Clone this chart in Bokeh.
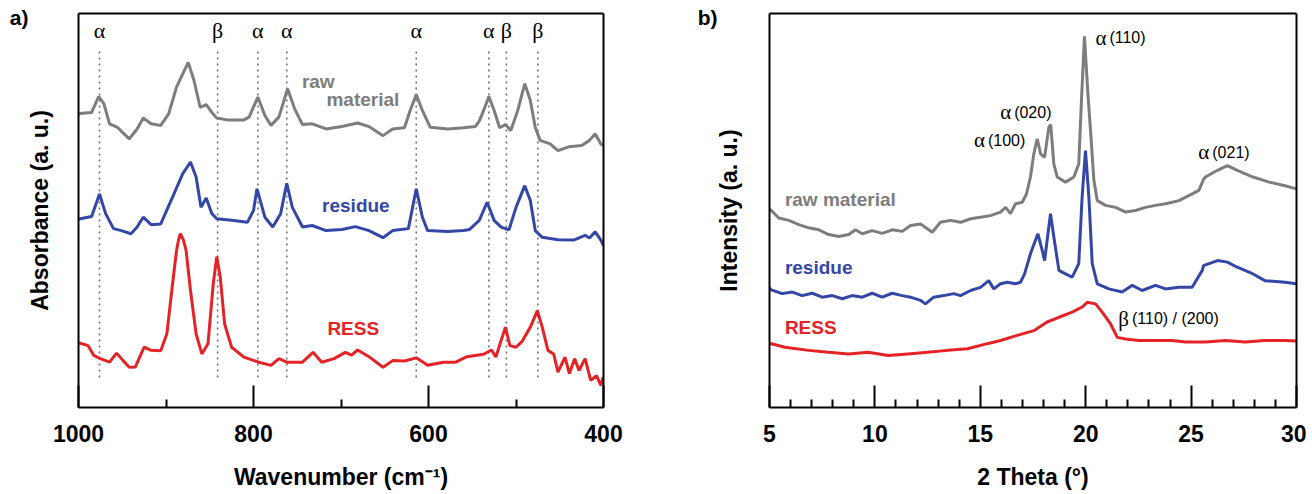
from bokeh.plotting import figure
from bokeh.models import Range1d, FixedTicker, LinearAxis
from bokeh.layouts import row
from bokeh.embed import file_html
from bokeh.resources import INLINE
from bokeh.core.properties import value

# ---------------- FTIR data (panel a) ----------------
raw_wn = [1000, 996, 985, 977, 971, 964.5, 955.5, 951, 942, 933, 926, 917, 906, 897, 888, 874.6, 868, 861, 854,
          847.6, 842, 830, 811, 805, 795, 787, 780, 771, 761, 753, 744, 733, 717, 699, 681, 668, 652, 641, 627.5,
          621, 614, 607, 598, 578, 560, 546.6, 542, 537, 531, 525, 518.7, 512, 506, 498, 490, 483.6, 478, 472.4,
          461, 452, 439, 425, 416, 409.5, 403, 400]
raw_abs = [74.5, 74.7, 74.9, 78.9, 77.1, 72.0, 71.1, 70.1, 68.2, 70.7, 73.5, 72.0, 71.6, 74.5, 81.3, 87.6, 83.0,
           76.2, 76.9, 74.9, 73.5, 73.0, 73.0, 73.7, 78.8, 74.1, 71.6, 73.7, 80.9, 75.8, 71.8, 72.0, 70.7, 71.3,
           72.2, 71.3, 69.0, 70.7, 71.0, 75.4, 79.4, 75.4, 71.1, 70.7, 71.0, 71.3, 72.7, 75.4, 78.9, 75.4, 71.0,
           71.8, 70.3, 75.4, 82.2, 77.9, 71.1, 67.8, 66.9, 65.2, 66.2, 66.5, 67.8, 69.5, 66.9, 66.5]

res_wn = [1000, 998, 985, 976, 969, 960, 951, 940, 933, 926, 917, 906, 892.5, 881, 872, 865.6, 860, 854, 847.6,
          842, 825, 807, 800, 796, 787, 778, 769, 762, 755.6, 744, 733, 717, 699, 683.6, 668, 652, 641, 623, 614,
          607, 601, 578, 560, 553, 542, 533, 525, 517, 508, 500, 490, 483.6, 478, 470, 452, 434, 421, 416, 409.5,
          403, 400]
res_abs = [47.8, 47.9, 48.5, 54.2, 49.2, 45.4, 44.9, 44.1, 45.8, 48.3, 46.4, 46.6, 53.4, 59.3, 62.3, 58.5, 50.8,
           53.2, 49.2, 47.9, 47.5, 47.0, 50.0, 55.5, 48.3, 45.8, 49.2, 56.9, 50.8, 45.8, 46.2, 44.9, 45.2, 45.9,
           44.9, 43.1, 44.9, 45.4, 55.5, 48.3, 44.9, 44.7, 44.9, 45.2, 47.5, 52.1, 47.5, 45.8, 45.1, 50.8, 56.3,
           52.5, 44.9, 43.2, 42.6, 42.5, 43.7, 43.0, 44.6, 42.5, 41.1]

ress_wn = [1000, 998, 989, 982.5, 975, 964.5, 956.5, 949, 942, 935, 925, 917, 906, 899, 892.5, 888, 885.8, 883.6,
           880, 877, 872, 865.6, 859, 852, 846, 842, 838, 833, 825, 811, 794, 780, 771, 762, 744, 732, 722, 708,
           695, 688, 681, 668, 652, 641, 627.5, 614, 601, 583, 569, 556, 537, 528, 523, 517, 512, 507, 500, 493,
           483.6, 475.6, 470, 463.5, 457, 452, 444, 439, 433, 428, 421, 414.6, 408, 403, 400.5]
ress_abs = [16.3, 16.3, 15.7, 13.2, 12.4, 11.5, 13.8, 11.9, 10.2, 10.3, 15.3, 14.5, 14.4, 18.7, 31.4, 39.8, 42.4,
            44.1, 42.4, 39.8, 29.7, 18.7, 13.6, 16.2, 31.4, 38.3, 33.1, 21.2, 15.3, 12.8, 11.5, 10.7, 12.4, 11.5,
            11.5, 14.0, 11.5, 12.4, 14.0, 13.3, 14.6, 12.9, 10.2, 11.9, 11.8, 12.6, 10.7, 11.5, 11.5, 12.9, 13.5,
            14.6, 12.8, 17.0, 20.4, 15.7, 15.3, 16.8, 20.4, 24.6, 20.4, 14.5, 13.6, 9.0, 12.8, 8.6, 12.4, 9.4,
            12.4, 6.9, 8.1, 5.6, 7.7]

band_wn = [976, 841, 795, 762, 614, 531, 511, 475]
band_lbl = ["α", "β", "α", "α", "α", "α", "β", "β"]

# ---------------- XRD data (panel b) ----------------
xrd_raw_t = [5.0, 5.05, 5.44, 5.92, 6.39, 6.86, 7.34, 7.81, 8.29, 8.76, 9.08, 9.40, 9.87, 10.35, 10.82, 11.30,
             11.69, 12.16, 12.72, 13.11, 13.59, 14.06, 14.54, 15.01, 15.48, 15.96, 16.20, 16.43, 16.67, 16.99,
             17.19, 17.38, 17.54, 17.70, 17.86, 18.05, 18.25, 18.34, 18.49, 18.65, 19.04, 19.44, 19.67, 19.80,
             19.94, 20.10, 20.23, 20.39, 20.55, 20.94, 21.42, 21.89, 22.36, 22.84, 23.31, 23.79, 24.42, 25.05,
             25.37, 25.60, 25.68, 26.25, 26.72, 27.19, 27.94, 28.7, 29.45, 30.0]
xrd_raw_i = [50.2, 50.2, 48.1, 47.5, 46.4, 45.6, 45.1, 43.9, 43.4, 43.9, 45.1, 44.1, 44.9, 44.2, 45.1, 44.7,
             46.2, 46.6, 44.5, 47.0, 47.5, 47.0, 47.9, 48.3, 48.7, 49.6, 50.8, 49.2, 51.7, 52.1,
             54.2, 58.5, 64.4, 68.2, 64.4, 63.5, 71.1, 71.8, 61.8, 58.5, 57.2, 58.5, 61.8, 78.0,
             94.2, 80.0, 70.3, 57.6, 52.5, 51.3, 50.8, 49.6, 50.0, 50.8, 51.3, 51.7, 52.5, 54.2,
             55.1, 58.0, 58.5, 60.2, 61.4, 60.2, 58.5, 57.2, 56.3, 55.5]

xrd_res_t = [5.0, 5.05, 5.60, 6.08, 6.55, 7.03, 7.50, 7.98, 8.45, 8.92, 9.40, 9.87, 10.35, 10.82, 11.30, 11.69,
             12.16, 12.40, 12.79, 13.27, 13.74, 14.06, 14.54, 15.01, 15.40, 15.64, 15.96, 16.28, 16.67, 16.91,
             17.10, 17.38, 17.73, 17.94, 18.05, 18.25, 18.33, 18.49, 18.73, 19.04, 19.36, 19.67, 19.83, 19.99,
             20.15, 20.31, 20.55, 21.10, 21.73, 22.21, 22.68, 23.31, 23.79, 24.42, 25.05, 25.53, 25.59, 26.25,
             26.72, 27.19, 27.94, 28.5, 29.45, 30.0]
xrd_res_i = [30.5, 29.9, 28.9, 29.3, 28.4, 29.0, 28.0, 28.4, 27.6, 28.4, 28.0, 29.0, 28.0, 29.0, 28.4, 28.0,
             27.2, 26.3, 28.0, 28.4, 28.9, 28.4, 29.7, 30.5, 32.2, 30.1, 31.4, 31.8, 31.4, 31.8,
             33.9, 39.0, 44.1, 39.8, 37.3, 45.8, 49.2, 43.2, 34.8, 33.9, 33.1, 36.5, 53.4, 65.2,
             53.4, 36.5, 31.4, 30.1, 29.3, 31.0, 29.7, 31.0, 30.1, 30.5, 30.5, 34.8, 36.0, 37.3,
             36.9, 35.6, 33.9, 32.2, 31.8, 31.4]

xrd_ress_t = [5.0, 5.73, 6.86, 7.8, 8.74, 9.68, 10.63, 11.56, 12.5, 13.45, 14.39, 15.33, 15.96, 16.75, 17.54,
              18.17, 18.73, 19.36, 19.83, 20.07, 20.47, 20.78, 21.18, 21.50, 21.89, 22.52, 23.31, 24.1, 24.74,
              25.68, 26.63, 27.57, 28.5, 29.45, 30.0]
xrd_ress_i = [16.3, 15.3, 14.5, 14.0, 13.6, 14.0, 13.2, 13.6, 14.0, 14.5, 14.9, 16.2, 17.0, 18.3, 19.5,
              21.7, 22.9, 24.2, 25.5, 26.7, 26.3, 24.2, 21.2, 17.8, 17.4, 17.0, 17.0, 17.0, 16.6,
              16.6, 17.0, 16.6, 17.0, 17.0, 16.9]

peak_greek = ["α", "α", "α", "α", "β"]
peak_hkl = ["(100)", "(020)", "(110)", "(021)", "(110) / (200)"]
peak_t = [15.27, 16.51, 21.03, 25.91, 22.10]
peak_i = [67.8, 75.0, 93.8, 64.8, 22.5]

GRAY = "#7d7d7d"
BLUE = "#3447a6"
RED = "#e42327"
SANS = "Liberation Sans"
SERIF = "Liberation Serif"


def blank_axis(ax, line=True):
    ax.ticker = FixedTicker(ticks=[])
    ax.axis_line_color = "black" if line else None
    ax.axis_line_width = 2
    ax.major_tick_in = 0
    ax.major_tick_out = 0
    ax.minor_tick_in = 0
    ax.minor_tick_out = 0


def style(p, xlabel, ylabel, majors, minors, ystand, panel_tag):
    p.outline_line_color = None
    p.xgrid.visible = False
    p.ygrid.visible = False
    ax = p.xaxis[0]
    ax.ticker = FixedTicker(ticks=majors, minor_ticks=minors)
    ax.axis_line_color = "black"
    ax.axis_line_width = 2
    ax.major_tick_in = 22
    ax.major_tick_out = 0
    ax.minor_tick_in = 8
    ax.minor_tick_out = 0
    ax.major_tick_line_width = 2
    ax.minor_tick_line_width = 2
    ax.major_tick_line_color = "black"
    ax.minor_tick_line_color = "black"
    ax.major_label_text_font = SANS
    ax.major_label_text_font_style = "bold"
    ax.major_label_text_font_size = "23px"
    ax.major_label_text_color = "black"
    ax.major_label_standoff = 17
    ax.axis_label = xlabel
    ax.axis_label_text_font = SANS
    ax.axis_label_text_font_style = "bold"
    ax.axis_label_text_font_size = "23px"
    ax.axis_label_text_color = "black"
    ax.axis_label_standoff = 19
    ay = p.yaxis[0]
    blank_axis(ay)
    ay.axis_label = ylabel
    ay.axis_label_text_font = SANS
    ay.axis_label_text_font_style = "bold"
    ay.axis_label_text_font_size = "23px"
    ay.axis_label_text_color = "black"
    ay.axis_label_standoff = ystand
    # outer left axis carries only the panel tag ("a)" / "b)") as its single tick label
    tag = LinearAxis()
    blank_axis(tag, line=False)
    tag.ticker = FixedTicker(ticks=[99])
    tag.major_label_overrides = {99: panel_tag}
    tag.major_label_standoff = -5
    tag.major_label_text_font = SANS
    tag.major_label_text_font_style = "bold"
    tag.major_label_text_font_size = "21px"
    tag.major_label_text_color = "black"
    p.add_layout(tag, "left")
    top = LinearAxis()
    blank_axis(top)
    top.major_label_text_font_size = "0px"
    p.add_layout(top, "above")
    right = LinearAxis()
    blank_axis(right)
    right.major_label_text_font_size = "0px"
    p.add_layout(right, "right")


# ---------------- panel a ----------------
pa = figure(width=690, height=493, output_backend="svg", toolbar_location=None,
            x_range=Range1d(1000, 400), y_range=Range1d(0, 100),
            min_border_left=78, min_border_right=87, min_border_top=13, min_border_bottom=86)
style(pa, "Wavenumber (cm⁻¹)", "Absorbance (a. u.)", [1000, 800, 600, 400], [900, 700, 500], 26, "a)")

pa.segment(x0=band_wn, y0=[7.6] * len(band_wn), x1=band_wn, y1=[91.4] * len(band_wn),
           line_color="#707070", line_width=1.6, line_dash="2 4")
pa.text(x=band_wn, y=[95.6] * len(band_wn), text=band_lbl, text_font=value(SERIF),
        text_font_size="22px", text_align="center", text_baseline="middle", text_color="black")

pa.line(raw_wn, raw_abs, line_color=GRAY, line_width=3)
pa.line(res_wn, res_abs, line_color=BLUE, line_width=3)
pa.line(ress_wn, ress_abs, line_color=RED, line_width=3)

pa.text(x=[726, 675], y=[82.8, 78.2], text=["raw", "material"], text_font=value(SANS),
        text_font_style="bold", text_font_size="19px", text_align="center", text_baseline="middle",
        text_color=GRAY)
pa.text(x=[683], y=[51.3], text=["residue"], text_font=value(SANS), text_font_style="bold",
        text_font_size="19px", text_align="center", text_baseline="middle", text_color=BLUE)
pa.text(x=[686], y=[20.1], text=["RESS"], text_font=value(SANS), text_font_style="bold",
        text_font_size="19px", text_align="center", text_baseline="middle", text_color=RED)

# ---------------- panel b ----------------
pb = figure(width=616, height=493, output_backend="svg", toolbar_location=None,
            x_range=Range1d(5, 30), y_range=Range1d(0, 100),
            min_border_left=79, min_border_right=10, min_border_top=13, min_border_bottom=86)
style(pb, "2 Theta (°)", "Intensity (a. u.)", [5, 10, 15, 20, 25, 30],
      [m for m in range(6, 30) if m % 5 != 0], 28, "b)")

pb.line(xrd_raw_t, xrd_raw_i, line_color=GRAY, line_width=3)
pb.line(xrd_res_t, xrd_res_i, line_color=BLUE, line_width=3)
pb.line(xrd_ress_t, xrd_ress_i, line_color=RED, line_width=3)

pb.text(x=[5.73], y=[52.7], text=["raw material"], text_font=value(SANS), text_font_style="bold",
        text_font_size="19px", text_align="left", text_baseline="middle", text_color=GRAY)
pb.text(x=[5.73], y=[35.6], text=["residue"], text_font=value(SANS), text_font_style="bold",
        text_font_size="19px", text_align="left", text_baseline="middle", text_color=BLUE)
pb.text(x=[5.73], y=[20.4], text=["RESS"], text_font=value(SANS), text_font_style="bold",
        text_font_size="19px", text_align="left", text_baseline="middle", text_color=RED)

pb.text(x=peak_t, y=peak_i, text=peak_greek, text_font=value(SERIF), text_font_size="21px",
        text_align="right", text_baseline="middle", x_offset=-1, text_color="black")
pb.text(x=peak_t, y=peak_i, text=peak_hkl, text_font=value(SANS), text_font_size="16px",
        text_align="left", text_baseline="middle", x_offset=2, text_color="black")

layout = row(pa, pb)
open("out.html", "w").write(file_html(layout, INLINE))
